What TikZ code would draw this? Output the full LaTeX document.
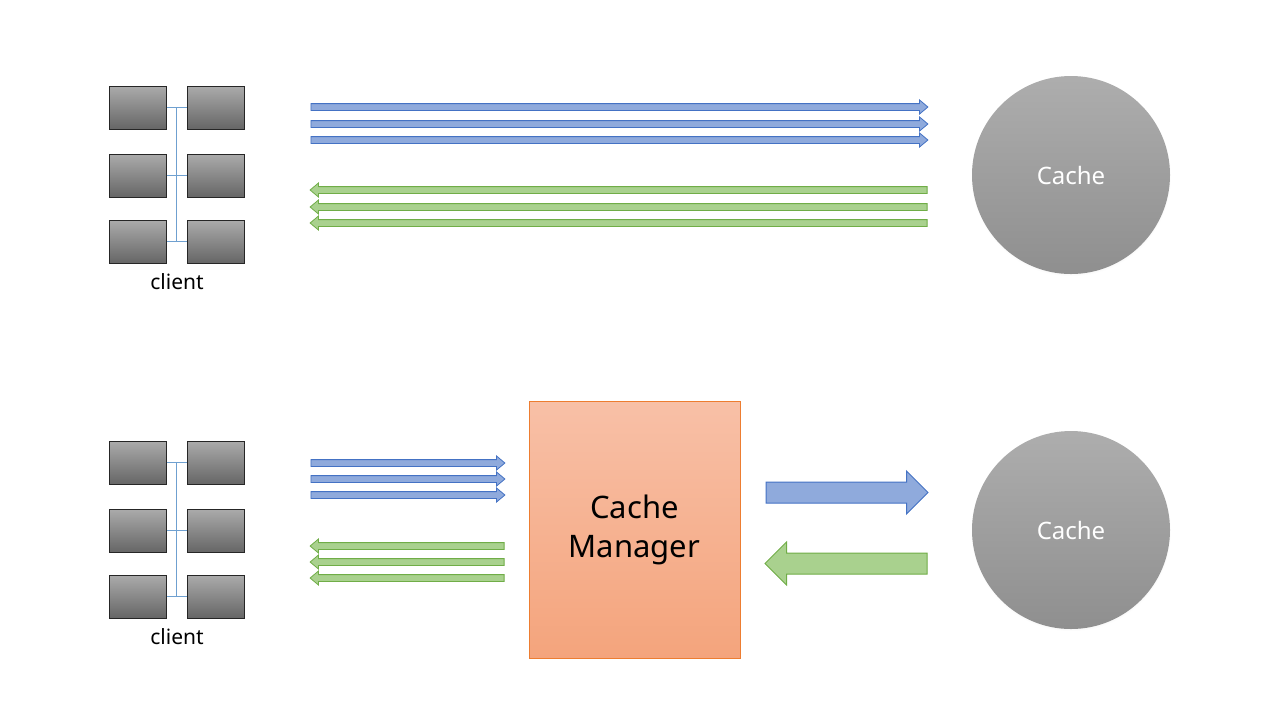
\documentclass[tikz,border=0pt]{standalone}
\usepackage{fontspec}
\setmainfont{Noto Sans}
\usetikzlibrary{shapes,arrows,positioning,calc,shadows}

\definecolor{reqfill}{HTML}{8FAADC}
\definecolor{reqline}{HTML}{4472C4}
\definecolor{resfill}{HTML}{A9D18E}
\definecolor{resline}{HTML}{70AD47}
\definecolor{lanblue}{HTML}{6FA0D0}
\definecolor{mgrtop}{HTML}{F8C0A7}
\definecolor{mgrbot}{HTML}{F4A47C}
\definecolor{mgrline}{HTML}{ED7D31}

\begin{document}
\begin{tikzpicture}[x=0.5pt, y=-0.5pt,
  pcbox/.style={draw=black!85, line width=0.5pt, rectangle, inner sep=0pt,
    top color=black!33, bottom color=black!60,
    minimum width=28.5pt, minimum height=21.5pt},
  lanline/.style={draw=lanblue, line width=0.5pt},
  thinarrow/.style={single arrow, anchor=tail, inner xsep=0pt, inner ysep=1.5pt,
    single arrow head extend=1.8pt, single arrow tip angle=80, line width=0.4pt},
  bigarrow/.style={single arrow, anchor=tail, inner xsep=0pt, inner ysep=5pt,
    single arrow head extend=5.5pt, single arrow tip angle=90,
    minimum height=81pt, line width=0.5pt},
  reqarrow/.style={fill=reqfill, draw=reqline},
  resarrow/.style={fill=resfill, draw=resline, shape border rotate=180},
  cachenode/.style={circle, minimum size=99pt, inner sep=0pt,
    top color=black!32, bottom color=black!44, text=white,
    font=\fontsize{12}{14}\selectfont,
    circular drop shadow={shadow xshift=0pt, shadow yshift=-0.6pt, opacity=0.25, shadow scale=1.01}}
]
\useasboundingbox (0,0) rectangle (1280,720);

% clients
\foreach \grp/\gy in {up/107.5, dn/462.5} {
  \foreach \row/\dy in {1/0, 2/68, 3/134} {
    \node[pcbox] (\grp\row a) at (137.5, \gy+\dy) {};
    \node[pcbox] (\grp\row b) at (215.5, \gy+\dy) {};
    \draw[lanline] (\grp\row a) -- (\grp\row b);
  }
  \draw[lanline] ($(\grp1a.east)!0.5!(\grp1b.west)$) -- ($(\grp3a.east)!0.5!(\grp3b.west)$);
  \node[font=\fontsize{10.5}{12}\selectfont] (\grp label) at (177, \gy+174.5) {client};
}

% caches
\node[cachenode] (cacheup) at (1071,175) {Cache};
\node[cachenode] (cachedn) at (1071,530) {Cache};

% direct requests / responses
\foreach \i/\y in {1/107, 2/124, 3/140}
  \node[thinarrow, reqarrow, minimum height=308.5pt] (upreq\i) at (310.5,\y) {};
\foreach \i/\y in {1/190, 2/207, 3/223}
  \node[thinarrow, resarrow, minimum height=308.5pt] (upres\i) at (927.5,\y) {};

% cache manager
\node[rectangle, draw=mgrline, line width=0.5pt, top color=mgrtop, bottom color=mgrbot,
  minimum width=105.5pt, minimum height=128.5pt, align=center,
  font=\fontsize{15.5}{19.5}\selectfont] (manager) at (634.5,529.5) {Cache\\Manager};

\foreach \i/\y in {1/463, 2/479, 3/495}
  \node[thinarrow, reqarrow, minimum height=97pt] (dnreq\i) at (310.5,\y) {};
\foreach \i/\y in {1/546, 2/562, 3/578}
  \node[thinarrow, resarrow, minimum height=97pt] (dnres\i) at (504.5,\y) {};

% manager <-> cache
\node[bigarrow, reqarrow] (mgrreq) at (765.5,492.5) {};
\node[bigarrow, resarrow] (mgrres) at (927.5,563.5) {};
\end{tikzpicture}
\end{document}
